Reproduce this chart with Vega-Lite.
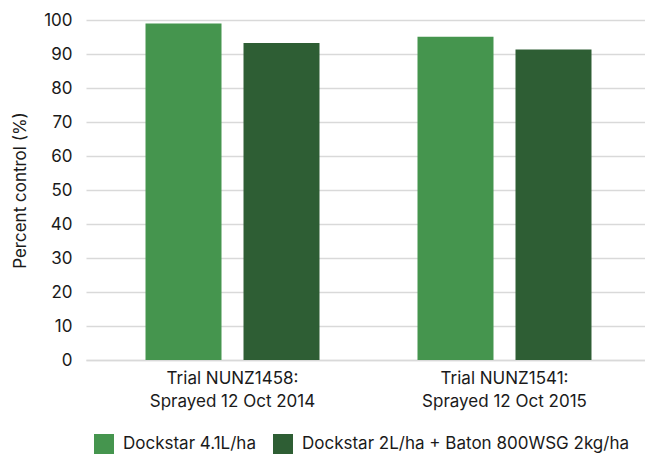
{
  "$schema": "https://vega.github.io/schema/vega-lite/v6.json",
  "autosize": {"type": "none"},
  "width": 559,
  "height": 340,
  "padding": {"left": 86, "top": 20, "right": 0, "bottom": 95},
  "background": "white",
  "config": {
    "font": "Inter",
    "view": {"stroke": null},
    "axis": {"labelFont": "Inter", "titleFont": "Inter", "labelColor": "#1a1a1a", "titleColor": "#1a1a1a"},
    "legend": {"labelFont": "Inter"}
  },
  "data": {
    "values": [
      {"trial": "Trial NUNZ1458:|Sprayed 12 Oct 2014", "treatment": "Dockstar 4.1L/ha", "value": 99.0},
      {"trial": "Trial NUNZ1458:|Sprayed 12 Oct 2014", "treatment": "Dockstar 2L/ha + Baton 800WSG 2kg/ha", "value": 93.2},
      {"trial": "Trial NUNZ1541:|Sprayed 12 Oct 2015", "treatment": "Dockstar 4.1L/ha", "value": 95.1},
      {"trial": "Trial NUNZ1541:|Sprayed 12 Oct 2015", "treatment": "Dockstar 2L/ha + Baton 800WSG 2kg/ha", "value": 91.3}
    ]
  },
  "mark": {"type": "bar"},
  "encoding": {
    "x": {
      "field": "trial",
      "type": "nominal",
      "sort": null,
      "scale": {"paddingInner": 0, "paddingOuter": 0.0276, "align": 0.7},
      "axis": {
        "title": null,
        "labelAngle": 0,
        "labelExpr": "split(datum.label, '|')",
        "labelFontSize": 17,
        "labelLineHeight": 23,
        "labelPadding": 10,
        "ticks": false,
        "domain": true,
        "domainColor": "#d9d9d9",
        "domainWidth": 1.5
      }
    },
    "xOffset": {
      "field": "treatment",
      "type": "nominal",
      "sort": ["Dockstar 4.1L/ha", "Dockstar 2L/ha + Baton 800WSG 2kg/ha"],
      "scale": {"paddingInner": 0.2245, "paddingOuter": 0.5}
    },
    "y": {
      "field": "value",
      "type": "quantitative",
      "scale": {"domain": [0, 100], "nice": false},
      "axis": {
        "title": "Percent control (%)",
        "titleFontSize": 17,
        "titleFontWeight": "normal",
        "titlePadding": 14,
        "values": [0, 10, 20, 30, 40, 50, 60, 70, 80, 90, 100],
        "labelFontSize": 17,
        "labelPadding": 14,
        "ticks": false,
        "domain": false,
        "grid": true,
        "gridColor": "#d9d9d9",
        "gridWidth": 1.5
      }
    },
    "color": {
      "field": "treatment",
      "type": "nominal",
      "sort": ["Dockstar 4.1L/ha", "Dockstar 2L/ha + Baton 800WSG 2kg/ha"],
      "scale": {"domain": ["Dockstar 4.1L/ha", "Dockstar 2L/ha + Baton 800WSG 2kg/ha"], "range": ["#45954e", "#2e5e34"]},
      "legend": {
        "title": null,
        "orient": "none",
        "direction": "horizontal",
        "legendX": 8,
        "legendY": 414,
        "symbolType": "square",
        "symbolSize": 400,
        "symbolStrokeWidth": 0,
        "labelFontSize": 17,
        "labelColor": "#1a1a1a",
        "labelOffset": 9,
        "columnPadding": 17,
        "labelLimit": 400
      }
    }
  }
}
